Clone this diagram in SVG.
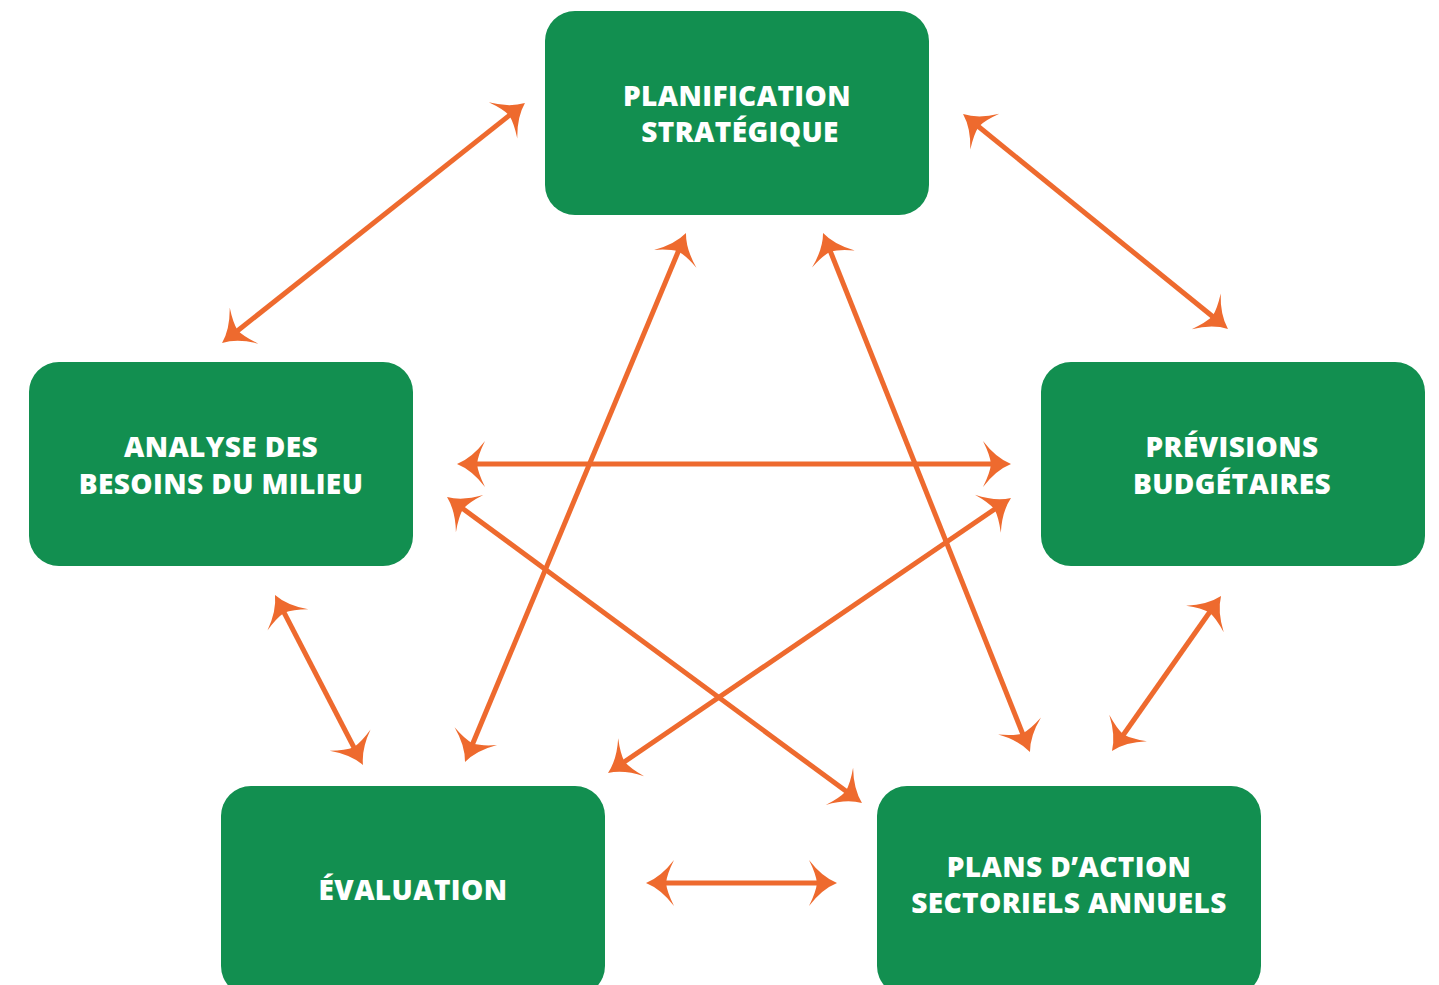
<svg xmlns="http://www.w3.org/2000/svg" width="1439" height="985" viewBox="0 0 1439 985">
<style>
.box{fill:#128F50}
.lbl{fill:#ffffff;font-family:"Open Sans","Liberation Sans",sans-serif;font-weight:800;font-size:28px;letter-spacing:0.4px;text-anchor:middle}
.con{stroke:#EE6A2E;stroke-width:5;fill:none;marker-start:url(#ah);marker-end:url(#ah)}
</style>
<defs>
<marker id="ah" markerUnits="userSpaceOnUse" viewBox="-20 -30 40 60" markerWidth="40" markerHeight="60" refX="0" refY="0" orient="auto-start-reverse">
<path d="M15,0 Q0,-6 -13,-23 Q-6,-9 -5,0 Q-6,9 -13,23 Q0,6 15,0 Z" fill="#EE6A2E"/>
</marker>
</defs>
<rect width="1439" height="985" fill="#ffffff"/>
<g id="connectors">
<line class="con" x1="513.2" y1="112.3" x2="233.8" y2="333.7"/>
<line class="con" x1="974.7" y1="123.5" x2="1216.3" y2="319.5"/>
<line class="con" x1="472" y1="464" x2="996" y2="464"/>
<line class="con" x1="459.1" y1="505.9" x2="849.9" y2="794.1"/>
<line class="con" x1="998.6" y1="506.5" x2="620.4" y2="764.5"/>
<line class="con" x1="680.2" y1="246.8" x2="470.8" y2="748.2"/>
<line class="con" x1="828.6" y1="246.9" x2="1024.4" y2="738.1"/>
<line class="con" x1="281.9" y1="608.3" x2="356.1" y2="751.7"/>
<line class="con" x1="1212.4" y1="608.3" x2="1120.6" y2="738.7"/>
<line class="con" x1="661" y1="883" x2="822" y2="883"/>
</g>
<g id="planification">
<rect class="box" x="545" y="11" width="384" height="204" rx="30"/>
<text class="lbl" x="737" y="106">PLANIFICATION</text>
<text class="lbl" x="740" y="142">STRATÉGIQUE</text>
</g>
<g id="analyse">
<rect class="box" x="29" y="362" width="384" height="204" rx="30"/>
<text class="lbl" x="221" y="457">ANALYSE DES</text>
<text class="lbl" x="221" y="494">BESOINS DU MILIEU</text>
</g>
<g id="previsions">
<rect class="box" x="1041" y="362" width="384" height="204" rx="30"/>
<text class="lbl" x="1232" y="457">PRÉVISIONS</text>
<text class="lbl" x="1232" y="494">BUDGÉTAIRES</text>
</g>
<g id="evaluation">
<rect class="box" x="221" y="786" width="384" height="210" rx="30"/>
<text class="lbl" x="413" y="900">ÉVALUATION</text>
</g>
<g id="plans">
<rect class="box" x="877" y="786" width="384" height="210" rx="30"/>
<text class="lbl" x="1069" y="877">PLANS D’ACTION</text>
<text class="lbl" x="1069" y="913">SECTORIELS ANNUELS</text>
</g>
</svg>
